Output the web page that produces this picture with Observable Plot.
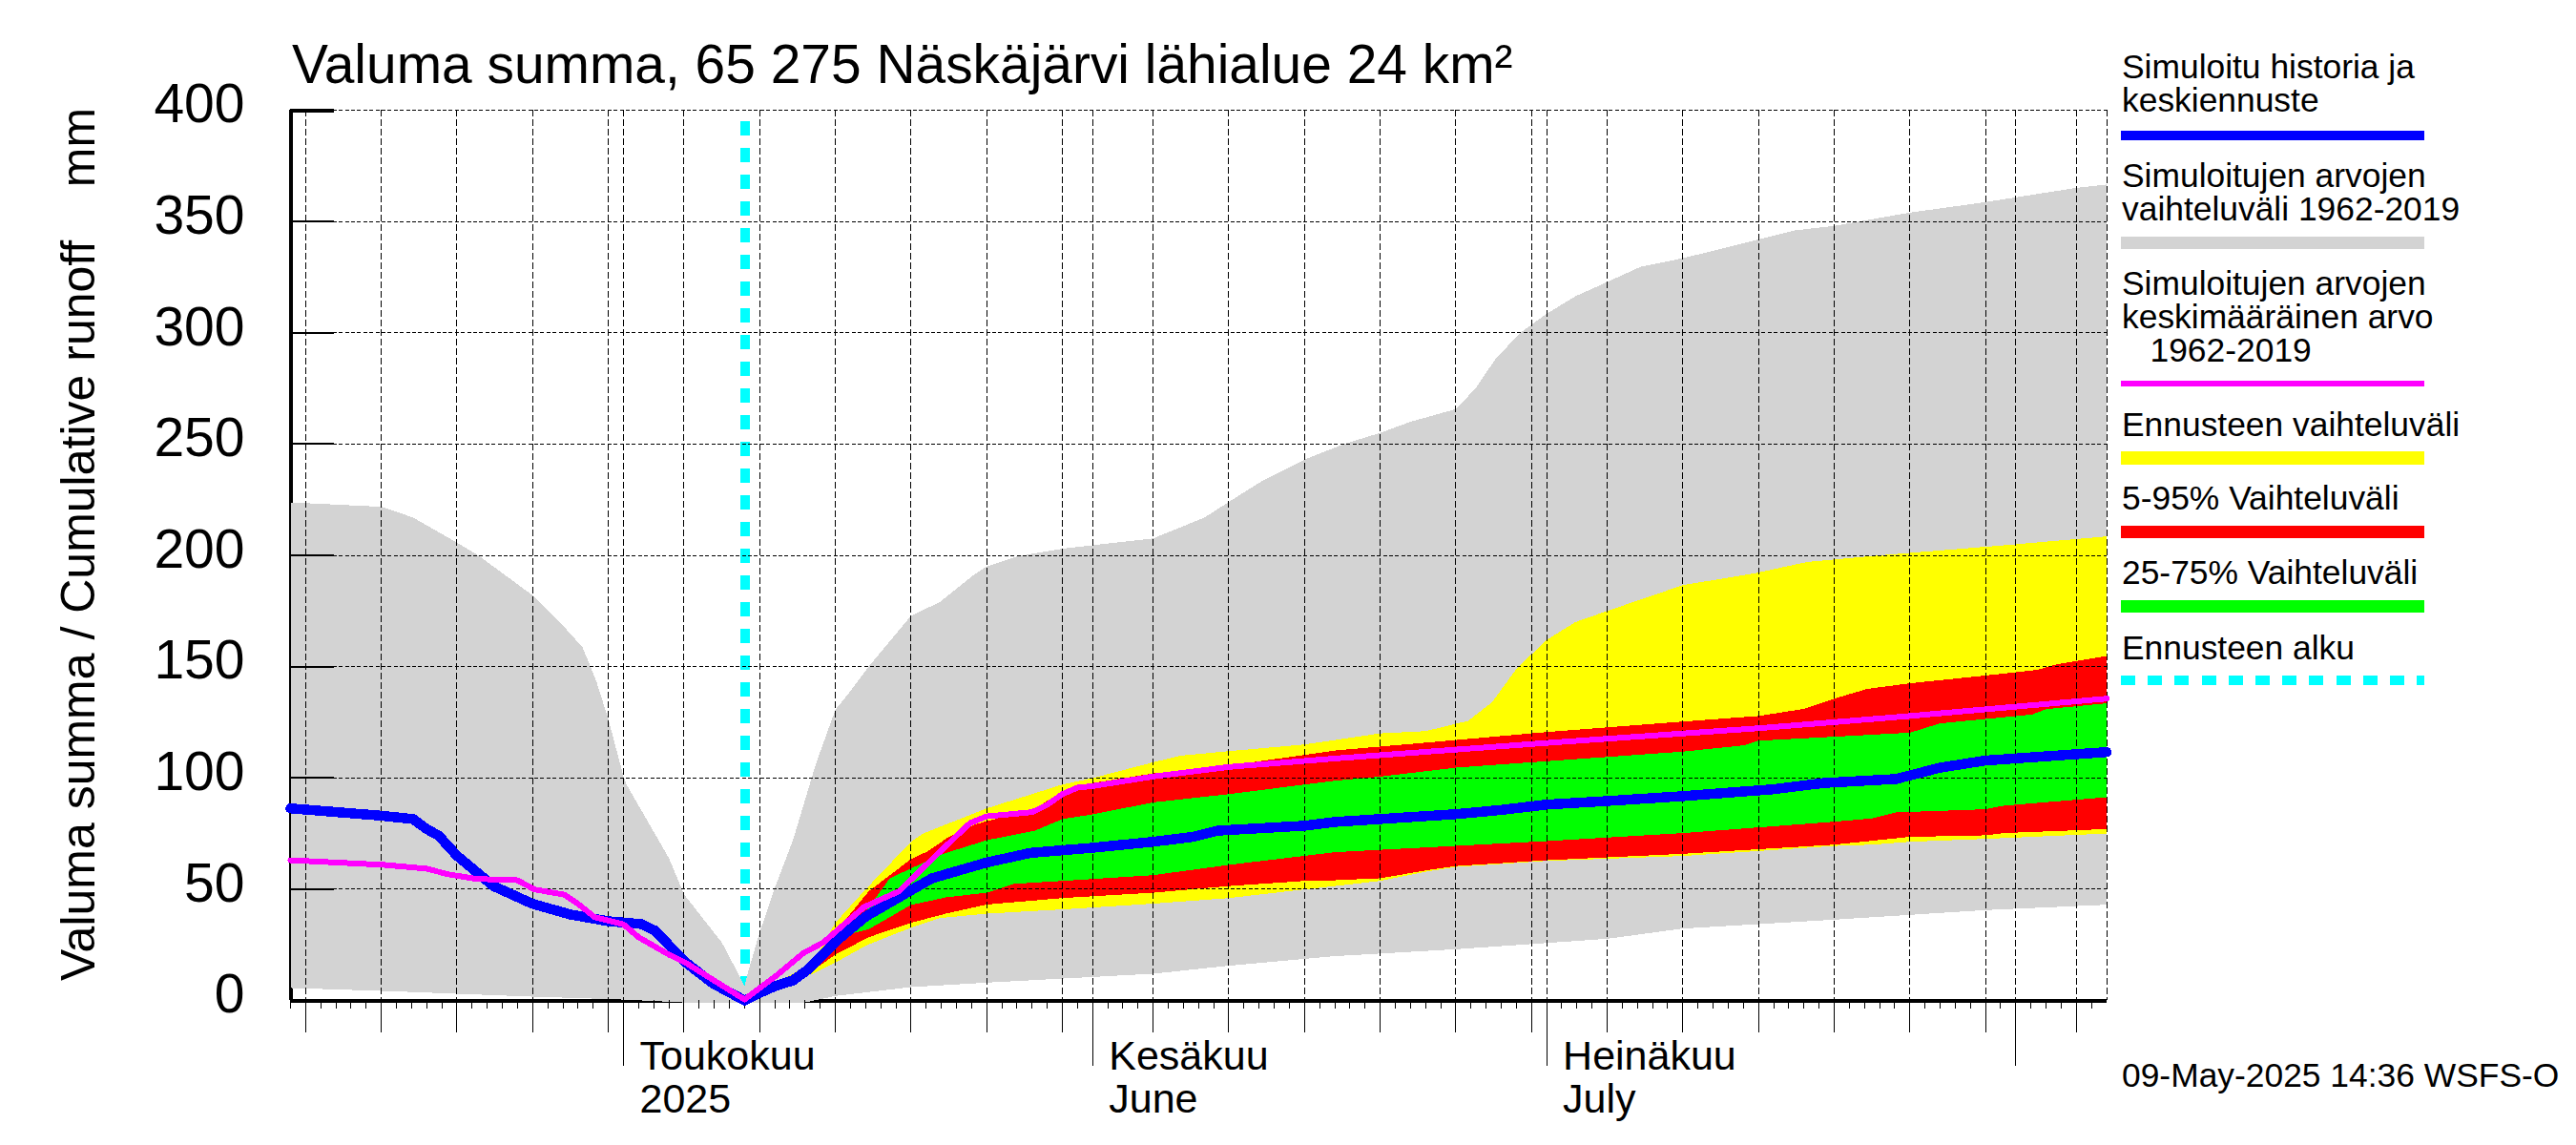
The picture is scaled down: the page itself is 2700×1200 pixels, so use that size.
<!DOCTYPE html>
<html>
<head>
<meta charset="utf-8">
<script src="https://cdn.jsdelivr.net/npm/d3@7"></script>
<script src="https://cdn.jsdelivr.net/npm/@observablehq/plot@0.6"></script>
<style>
  html, body { margin: 0; background: #fff; }
  #page { position: relative; width: 2700px; height: 1200px; overflow: hidden; font-family: "Liberation Sans", Arial, sans-serif; color: #000; }
  #page svg { position: absolute; left: 0; top: 0; shape-rendering: crispEdges; }
  .t { position: absolute; white-space: pre; line-height: 0.9; }
  .b { position: absolute; }
</style>
</head>
<body>
<div id="page"></div>
<script>
// Days are counted from 9 April 2025.
const startDate = Date.UTC(2025, 3, 9);
const lastDay = 120;
const forecastDay = 30.07;

const titleText = "Valuma summa, 65 275 Näskäjärvi lähialue 24 km²";
const yAxisLabel = "Valuma summa / Cumulative runoff\u00a0\u00a0\u00a0\u00a0mm";
const stampText = "09-May-2025 14:36 WSFS-O";
const yTicks = [0, 50, 100, 150, 200, 250, 300, 350, 400];
const monthDays = [22, 53, 83, 114];
const monthLabels = ["Toukokuu\n2025", "Kesäkuu\nJune", "Heinäkuu\nJuly"];
const fiveDayDays = [1, 6, 11, 16, 21, 26, 31, 36, 41, 46, 51, 57, 62, 67, 72, 77, 82, 87, 92, 97, 102, 107, 112, 118];

const grayMaxDays = [0, 6, 8.1, 11, 12.4, 16, 17.8, 19.3, 20.2, 21, 22, 22.2, 25, 26, 28.5, 29.2, 30, 30.2, 31, 32, 33.2, 34.7, 36, 37, 38.2, 41, 42.9, 45.1, 46, 48, 51, 57, 60.4, 62, 64.1, 67, 69.6, 72, 74, 77, 78.3, 79.7, 81.4, 83, 84.9, 87, 89.2, 92, 96.9, 99.4, 102, 107, 111.9, 117.9, 120];
const grayMaxVals = [223.8, 221.8, 217, 205.7, 200, 182, 170, 158.6, 143.6, 126.4, 100.7, 97, 64, 47.7, 26, 17, 6.4, 12, 30.6, 50.6, 72, 106, 130.6, 139, 150, 172.8, 179, 191, 195, 199.5, 203, 207.6, 217, 224, 233, 243, 250, 255, 260, 265.7, 275, 289, 300.7, 308.5, 316.4, 322.8, 329.6, 333.5, 341.7, 346, 348, 354, 358.6, 365, 366.6];
const grayMinDays = [0, 6, 16, 22, 26, 34, 34.6, 36, 41, 46, 57, 62, 69, 77, 87, 92, 102, 112, 120];
const grayMinVals = [5.6, 4.3, 1.7, 0.4, -0.9, -0.9, 0, 2, 6, 8, 12, 15.6, 19.9, 23, 27.7, 32.3, 36.3, 40.6, 43];

const yellowTopDays = [30, 34.5, 36, 38, 41, 41.8, 46, 51, 53, 57, 58.8, 62, 67, 69, 72, 75, 77.8, 79.4, 81, 83, 84.9, 87, 92, 96.8, 100.2, 105, 113.2, 120];
const yellowTopVals = [0, 17, 34.9, 49.9, 71.3, 75, 86.3, 97, 99.9, 107, 110, 112, 115, 117, 120, 121, 125.6, 134, 149, 162, 170, 175, 186.6, 192, 197, 200, 204.5, 208.5];
const yellowLowDays = [30, 34.5, 36, 38.1, 41, 42.9, 46, 51, 57, 62, 67, 69, 72, 75, 77, 83, 92, 102, 104.5, 107, 112, 120];
const yellowLowVals = [0, 12, 17, 24.9, 32.7, 37, 39, 40.9, 43.5, 46, 49.9, 51.4, 53.7, 57.8, 60, 62.7, 64.9, 69.4, 70, 71.3, 72.6, 75];

const redTopDays = [30, 34.5, 36, 38.2, 41, 42.1, 43.5, 45.2, 47.2, 48.9, 51, 53, 57, 62, 67, 69, 77, 83, 92, 97, 100, 102, 104.2, 107, 112, 115.4, 116.7, 120];
const redTopVals = [0, 16, 30.6, 49, 63.5, 67, 73.5, 79, 82.7, 84.9, 94, 97.7, 102, 105.6, 110.3, 112.3, 117, 120.6, 125.3, 127.8, 131, 135.6, 140, 142.5, 146, 148.5, 151, 154.8];
const redLowDays = [30, 34.5, 36, 38.2, 41, 43.3, 46, 51, 57, 62, 67, 69, 72, 75, 77, 83, 92, 102, 107, 112, 113.2, 120];
const redLowVals = [0, 13.4, 20.6, 28.4, 34.9, 39, 43.1, 46, 48.4, 51.4, 53.7, 54, 54.9, 58.4, 60.4, 63, 65.9, 70, 73.5, 74.2, 75.2, 77];

const greenTopDays = [30, 34.5, 37, 39.6, 43, 46, 49.2, 51, 53, 57, 62, 67, 69, 72, 77, 83, 92, 96, 97, 107, 109, 115.1, 116, 120];
const greenTopVals = [0, 14, 30.6, 54.9, 65.6, 72, 76.3, 81.5, 83.6, 89, 92.7, 97, 98.7, 100.6, 104.6, 107.5, 111.8, 114.6, 116.7, 120.3, 124.5, 128.5, 130.9, 133.5];
const greenLowDays = [30, 34.5, 37, 38.2, 41, 43.3, 46, 47.8, 51, 57, 62, 69, 83, 92, 102, 104.5, 106.1, 112, 113.2, 120];
const greenLowVals = [0, 13.5, 30, 32, 42.9, 46.3, 48.4, 52.4, 53.7, 56.3, 60.9, 66.6, 71.6, 75.2, 80.3, 81.8, 84.5, 85.9, 87.5, 91.3];

const blueDays = [0, 6, 8.1, 9, 9.8, 11, 13.4, 16, 18.5, 21, 23.2, 24.1, 26, 27.9, 30, 31, 32, 33.2, 34.1, 35.2, 36, 38, 41, 42.4, 46, 48.9, 53, 57, 59.6, 61.3, 67, 69, 77, 80, 83, 87, 92, 98, 101.3, 106.1, 109, 112, 120];
const blueVals = [86.3, 83, 81.5, 77, 74, 65, 51.4, 43.4, 38.6, 35.6, 34.3, 31.3, 17.7, 7.7, 0, 3.4, 6.4, 9, 13.4, 20.6, 26.3, 37.7, 49.5, 54.9, 62, 66.3, 68.6, 71.3, 73.5, 76.3, 78.5, 80.2, 83.7, 85.6, 88, 89.6, 91.8, 94.9, 97.7, 99.5, 104.6, 107.8, 111.6];
const magentaDays = [0, 6.2, 9, 10.4, 12.3, 15, 16.1, 18.1, 19, 20.1, 22, 23, 25, 26.1, 30, 32, 33.9, 35.2, 37.9, 40.2, 42.4, 44.9, 46, 49, 50, 51, 52, 53, 57, 62, 69, 83, 97, 107, 120];
const magentaVals = [63, 60.9, 59.2, 56.7, 54.6, 54, 49.9, 47.5, 43.4, 37.4, 34.2, 28.4, 20.6, 17, 0.4, 10.6, 21.3, 26, 42, 49, 63.5, 79.7, 82.7, 84.6, 87.9, 92.7, 95.6, 96.3, 100.6, 104.9, 108.7, 115.7, 122.3, 127.8, 135.6];

const legendLabels = [
  ["Simuloitu historia ja", "keskiennuste"],
  ["Simuloitujen arvojen", "vaihteluväli 1962-2019"],
  ["Simuloitujen arvojen", "keskimääräinen arvo", "   1962-2019"],
  ["Ennusteen vaihteluväli"],
  ["5-95% Vaihteluväli"],
  ["25-75% Vaihteluväli"],
  ["Ennusteen alku"]
];
const legendColors = ["#0000ff", "#d3d3d3", "#ff00ff", "#ffff00", "#ff0000", "#00ff00", "#00ffff"];

// Layout of the text and legend around the plot, in page pixels.
const legendBaselines = [[83, 118], [197, 232], [310, 345, 380.5], [458], [535], [613], [692]];
const legendBars = [[137, 10], [248, 13], [399, 6], [473, 14], [551, 13], [629, 13], [708, 10]];
const legendLeft = 2223, legendTextLeft = 2224, legendWidth = 318, legendFont = 35.4;

const toDate = d => new Date(startDate + d * 864e5);
const rows = (days, vals) => days.map((d, i) => ({x: toDate(d), y: vals[i]}));
const band = (topD, topV, lowD, lowV) => rows(topD, topV).concat(rows(lowD, lowV).reverse());
const bandMark = (poly, fill) => Plot.line(poly, {x: "x", y: "y", fill, stroke: "none"});
const allDays = d3.range(0, lastDay);
const gridDays = fiveDayDays.concat(monthDays, [lastDay]);
const font = '"Liberation Sans", Arial, sans-serif';

const chart = Plot.plot({
  width: 2700,
  height: 1200,
  marginLeft: 304,
  marginRight: 492.5,
  marginTop: 115,
  marginBottom: 152,
  style: {fontFamily: font, background: "#fff", color: "#000", overflow: "visible"},
  x: {type: "utc", domain: [toDate(0), toDate(lastDay)], axis: null},
  y: {domain: [0, 400], axis: null},
  marks: [
    Plot.ruleY([0], {x1: toDate(0), x2: toDate(lastDay), stroke: "#000", strokeWidth: 4}),
    Plot.ruleX([toDate(0)], {y1: 0, y2: 400, stroke: "#000", strokeWidth: 4}),
    Plot.ruleX([toDate(forecastDay)], {y1: 395, y2: 0, stroke: "#00ffff", strokeWidth: 10, strokeDasharray: "15 13"}),
    bandMark(band(grayMaxDays, grayMaxVals, grayMinDays, grayMinVals), "#d3d3d3"),
    bandMark(band(yellowTopDays, yellowTopVals, yellowLowDays, yellowLowVals), "#ffff00"),
    bandMark(band(redTopDays, redTopVals, redLowDays, redLowVals), "#ff0000"),
    bandMark(band(greenTopDays, greenTopVals, greenLowDays, greenLowVals), "#00ff00"),
    Plot.ruleX(gridDays.map(toDate), {y1: 400, y2: 0, stroke: "#000", strokeWidth: 1, strokeDasharray: "7 3"}),
    Plot.ruleY(yTicks.filter(v => v > 0), {x1: toDate(0), x2: toDate(lastDay), stroke: "#000", strokeWidth: 1, strokeDasharray: "4 2.4"}),
    Plot.ruleY(yTicks.filter(v => v > 0 && v < 400), {x1: toDate(0), x2: toDate(2.9), stroke: "#000", strokeWidth: 2}),
    Plot.ruleY([400], {x1: toDate(0), x2: toDate(2.9), stroke: "#000", strokeWidth: 4}),
    Plot.ruleX(allDays.map(toDate), {y1: 0, y2: -3.9, stroke: "#000", strokeWidth: 1}),
    Plot.ruleX(fiveDayDays.map(toDate), {y1: 0, y2: -14.6, stroke: "#000", strokeWidth: 1}),
    Plot.ruleX(monthDays.map(toDate), {y1: 0, y2: -29.6, stroke: "#000", strokeWidth: 1}),
    Plot.line(rows(blueDays, blueVals), {x: "x", y: "y", stroke: "#0000ff", strokeWidth: 10.5}),
    Plot.line(rows(magentaDays, magentaVals), {x: "x", y: "y", stroke: "#ff00ff", strokeWidth: 6}),
    Plot.axisY({ticks: yTicks, tickSize: 0, tickPadding: 48, fontSize: 57, label: null, dy: -5.5}),
    Plot.text(monthLabels, {
      x: (d, i) => toDate(monthDays[i]), y: -50.5, text: d => d,
      textAnchor: "start", lineAnchor: "bottom", dx: 17, fontSize: 43, lineHeight: 1.05, fill: "#000"
    }),
    Plot.text([yAxisLabel], {
      frameAnchor: "left", dx: -222, dy: -11.5, rotate: -90, text: d => d,
      fontSize: 50, fill: "#000", textAnchor: "middle"
    })
  ]
});

const page = document.getElementById("page");
page.appendChild(chart);

function addText(text, left, baseline, size) {
  const el = document.createElement("div");
  el.className = "t";
  el.textContent = text;
  el.style.left = left + "px";
  el.style.fontSize = size + "px";
  el.style.top = (baseline - 0.7965 * size) + "px";
  page.appendChild(el);
}
addText(titleText, 306, 87, 56.9);
addText(stampText, legendTextLeft, 1140, legendFont);
legendLabels.forEach((lines, i) => {
  lines.forEach((line, j) => addText(line, legendTextLeft, legendBaselines[i][j], legendFont));
  const bar = document.createElement("div");
  bar.className = "b";
  bar.style.left = legendLeft + "px";
  bar.style.width = legendWidth + "px";
  bar.style.top = legendBars[i][0] + "px";
  bar.style.height = legendBars[i][1] + "px";
  bar.style.background = legendColors[i] === "#00ffff"
    ? "repeating-linear-gradient(90deg, #00ffff 0 15px, #fff 15px 28.2px)"
    : legendColors[i];
  page.appendChild(bar);
});
</script>
</body>
</html>
